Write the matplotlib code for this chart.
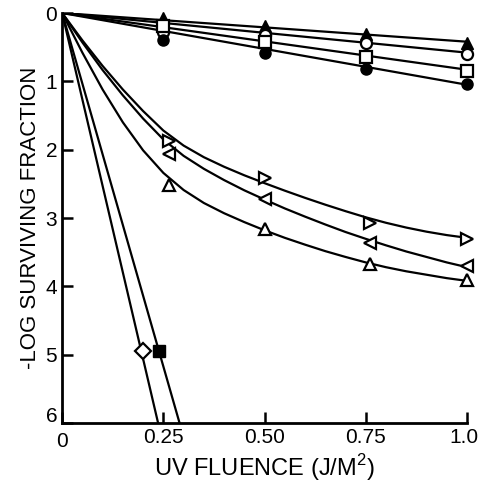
import matplotlib
matplotlib.use("Agg")
import matplotlib.pyplot as plt
import matplotlib.transforms as mtransforms

plt.rcParams["font.family"] = ["Liberation Sans", "DejaVu Sans"]

# top group: straight lines from origin
top_x = [0.25, 0.5, 0.75, 1.0]
filled_tri = [0.07, 0.19, 0.30, 0.44]
open_circle = [0.28, 0.32, 0.44, 0.60]
open_square = [0.19, 0.43, 0.65, 0.85]
filled_circle = [0.40, 0.59, 0.82, 1.04]
top_line_ends = [0.42, 0.58, 0.83, 1.05]  # value of each fitted line at x=1.0

# middle group: curved fits + points
curve_x = [0, 0.05, 0.1, 0.15, 0.2, 0.25, 0.3, 0.35, 0.4, 0.45, 0.5,
           0.55, 0.6, 0.65, 0.7, 0.75, 0.8, 0.85, 0.9, 0.95, 1.0]
curve_right = [0, 0.40, 0.775, 1.12, 1.435, 1.72, 1.94, 2.11, 2.25, 2.375, 2.49,
               2.60, 2.705, 2.805, 2.90, 2.99, 3.07, 3.14, 3.20, 3.25, 3.29]
curve_left = [0, 0.43, 0.835, 1.205, 1.545, 1.85, 2.09, 2.28, 2.445, 2.595, 2.73,
              2.86, 2.98, 3.095, 3.205, 3.305, 3.40, 3.49, 3.57, 3.65, 3.72]
curve_up = [0, 0.58, 1.12, 1.60, 2.01, 2.34, 2.59, 2.78, 2.93, 3.06, 3.18,
            3.29, 3.39, 3.485, 3.57, 3.65, 3.72, 3.78, 3.83, 3.88, 3.92]

mid_x = [0.265, 0.5, 0.76, 1.0]
tri_right = [1.88, 2.41, 3.07, 3.30]
tri_left = [2.07, 2.72, 3.36, 3.70]
tri_up = [2.51, 3.16, 3.68, 3.90]

# steep group
diamond_pt = (0.20, 4.95)
square_pt = (0.24, 4.95)
steep_ends = [0.237, 0.29]  # x where each line reaches 6

fig = plt.figure(figsize=(4.78, 4.82), dpi=100)
ax = fig.add_axes([0.13, 0.1224, 0.847, 0.8506])

lw = 1.6
ms = 9
mew = 1.6

# straight lines through top group
for end in top_line_ends:
    ax.plot([0, 1.0], [0, end], color="black", lw=lw, zorder=2)
ax.plot(top_x, filled_tri, "^", color="black", ms=ms, zorder=3, clip_on=False)
ax.plot(top_x, open_circle, "o", mfc="white", mec="black", mew=mew, ms=ms - 1, zorder=3, clip_on=False)
ax.plot(top_x, open_square, "s", mfc="white", mec="black", mew=mew, ms=ms - 1, zorder=3, clip_on=False)
ax.plot(top_x, filled_circle, "o", color="black", ms=ms - 1, zorder=3, clip_on=False)

# curves
for cy in [curve_right, curve_left, curve_up]:
    ax.plot(curve_x, cy, color="black", lw=lw, zorder=2)
ax.plot(mid_x, tri_right, ">", mfc="white", mec="black", mew=mew, ms=ms, zorder=3, clip_on=False)
ax.plot(mid_x, tri_left, "<", mfc="white", mec="black", mew=mew, ms=ms, zorder=3, clip_on=False)
ax.plot(mid_x, tri_up, "^", mfc="white", mec="black", mew=mew, ms=ms, zorder=3, clip_on=False)

# steep lines
for end in steep_ends:
    ax.plot([0, end], [0, 6], color="black", lw=lw, zorder=2)
ax.plot(*diamond_pt, "D", mfc="white", mec="black", mew=mew, ms=ms - 1, zorder=3)
ax.plot(*square_pt, "s", color="black", ms=ms, zorder=3)

ax.set_xlim(0, 1.0)
ax.set_ylim(6, 0)
ax.set_xticks([0, 0.25, 0.5, 0.75, 1.0])
ax.set_xticklabels(["0", "0.25", "0.50", "0.75", "1.0"])
ax.set_yticks(range(7))
ax.tick_params(direction="in", length=8, width=1.8, labelsize=15)
ax.spines["top"].set_visible(False)
ax.spines["right"].set_visible(False)
ax.spines["left"].set_linewidth(2)
ax.spines["bottom"].set_linewidth(2)

# nudge the corner labels apart like the original
lab6 = ax.get_yticklabels()[-1]
lab6.set_transform(lab6.get_transform() + mtransforms.ScaledTranslation(0, 6 / 72, fig.dpi_scale_trans))
lab0 = ax.get_xticklabels()[0]
lab0.set_transform(lab0.get_transform() + mtransforms.ScaledTranslation(0, -3 / 72, fig.dpi_scale_trans))
lab10 = ax.get_xticklabels()[-1]
lab10.set_transform(lab10.get_transform() + mtransforms.ScaledTranslation(-2 / 72, 0, fig.dpi_scale_trans))

ax.set_xlabel("UV FLUENCE (J/M$^\\mathregular{2}$)", fontsize=17, labelpad=1)
ax.set_ylabel("-LOG SURVIVING FRACTION", fontsize=16, labelpad=3)

plt.savefig("out.png", dpi=100)
